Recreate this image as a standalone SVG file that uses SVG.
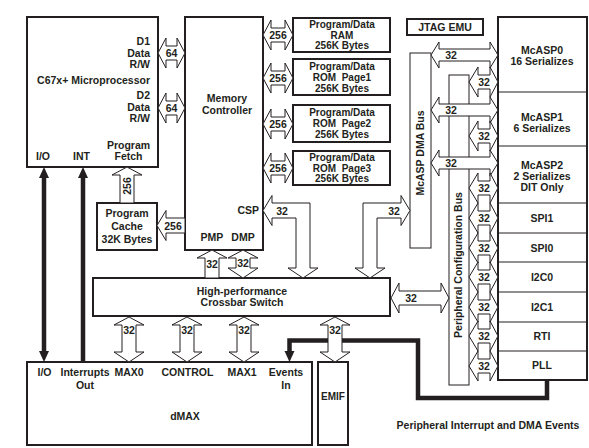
<svg xmlns="http://www.w3.org/2000/svg" width="589" height="448" viewBox="0 0 589 448">
<style>
.box{fill:#fff;stroke:#231f20;stroke-width:2}
.bus{fill:#fff;stroke:#231f20;stroke-width:1}
.div{stroke:#231f20;stroke-width:1}
.arr{fill:#fff;stroke:#231f20;stroke-width:1;stroke-linejoin:miter}
.thick{fill:none;stroke:#231f20;stroke-width:4.5;stroke-linejoin:miter}
.head{fill:#231f20;stroke:none}
text{font-family:"Liberation Sans",Arial,Helvetica,sans-serif;font-weight:bold;font-size:10.5px;fill:#231f20}
.c{text-anchor:middle}
.e{text-anchor:end}
.n{font-size:10.5px;text-anchor:middle}
.m{font-size:10px;text-anchor:middle}
</style>
<rect width="589" height="448" fill="#fff"/>

<g id="cpu">
<rect class="box" x="27" y="17" width="131" height="150"/>
<text class="e" x="150" y="45">D1</text>
<text class="e" x="150" y="57">Data</text>
<text class="e" x="150" y="68">R/W</text>
<text class="e" x="150" y="84">C67x+ Microprocessor</text>
<text class="e" x="150" y="99">D2</text>
<text class="e" x="150" y="111">Data</text>
<text class="e" x="150" y="122">R/W</text>
<text class="c" x="128.5" y="149">Program</text>
<text class="c" x="128.5" y="160">Fetch</text>
<text class="c" x="43" y="160">I/O</text>
<text class="c" x="81.5" y="160">INT</text>
</g>

<g id="memctrl">
<rect class="box" x="185" y="17" width="78" height="233"/>
<text class="c" x="227" y="102">Memory</text>
<text class="c" x="227" y="114">Controller</text>
<text class="e" x="259" y="214">CSP</text>
<text class="c" x="212" y="241">PMP</text>
<text class="c" x="243" y="241">DMP</text>
</g>

<g id="ram">
<rect class="box" x="293" y="18" width="97" height="34"/>
<text class="m" x="342" y="28">Program/Data</text>
<text class="m" x="342" y="38.5">RAM</text>
<text class="m" x="342" y="49">256K Bytes</text>
</g>
<g id="rom1">
<rect class="box" x="293" y="59" width="97" height="36"/>
<text class="m" x="342" y="70">Program/Data</text>
<text class="m" x="342" y="81" xml:space="preserve">ROM  Page1</text>
<text class="m" x="342" y="92">256K Bytes</text>
</g>
<g id="rom2">
<rect class="box" x="293" y="105" width="97" height="37"/>
<text class="m" x="342" y="116">Program/Data</text>
<text class="m" x="342" y="127" xml:space="preserve">ROM  Page2</text>
<text class="m" x="342" y="138">256K Bytes</text>
</g>
<g id="rom3">
<rect class="box" x="293" y="151" width="97" height="34"/>
<text class="m" x="342" y="161">Program/Data</text>
<text class="m" x="342" y="171.5" xml:space="preserve">ROM  Page3</text>
<text class="m" x="342" y="182">256K Bytes</text>
</g>

<g id="jtag">
<rect class="box" x="407" y="19" width="76" height="16"/>
<text class="c" x="445" y="30.5">JTAG EMU</text>
</g>

<g id="cache">
<rect class="box" x="97" y="203" width="60" height="47"/>
<text class="c" x="127" y="217">Program</text>
<text class="c" x="127" y="230">Cache</text>
<text class="c" x="127" y="243">32K Bytes</text>
</g>

<g id="crossbar">
<rect class="box" x="93" y="278" width="297" height="38"/>
<text class="c" x="242" y="294.5">High-performance</text>
<text class="c" x="242" y="305.5">Crossbar Switch</text>
</g>

<g id="dmax">
<rect class="box" x="27" y="362" width="285" height="83"/>
<text class="c" x="44.5" y="376">I/O</text>
<text class="c" x="85" y="376">Interrupts</text>
<text class="c" x="85" y="389">Out</text>
<text class="c" x="129" y="376">MAX0</text>
<text class="c" x="187.5" y="376">CONTROL</text>
<text class="c" x="242" y="376">MAX1</text>
<text class="c" x="286" y="376">Events</text>
<text class="c" x="286" y="389">In</text>
<text class="c" x="185" y="420">dMAX</text>
</g>

<g id="emif">
<rect class="box" x="318" y="362" width="30" height="83"/>
<text class="c" x="333" y="400" style="font-size:10px">EMIF</text>
</g>

<g id="dmabus">
<rect class="bus" x="410" y="53" width="21" height="195"/>
<text class="c" transform="translate(423.5,153) rotate(-90)">McASP DMA Bus</text>
</g>

<g id="cfgbus">
<rect class="bus" x="449" y="75" width="20" height="310"/>
<text class="c" transform="translate(462,265) rotate(-90)">Peripheral Configuration Bus</text>
</g>

<g id="peripherals">
<rect class="box" x="498" y="17" width="89" height="363"/>
<line class="div" x1="498" y1="92" x2="587" y2="92"/>
<line class="div" x1="498" y1="146" x2="587" y2="146"/>
<line class="div" x1="498" y1="203" x2="587" y2="203"/>
<line class="div" x1="498" y1="233" x2="587" y2="233"/>
<line class="div" x1="498" y1="262" x2="587" y2="262"/>
<line class="div" x1="498" y1="292" x2="587" y2="292"/>
<line class="div" x1="498" y1="322" x2="587" y2="322"/>
<line class="div" x1="498" y1="351" x2="587" y2="351"/>
<g id="mcasp0"><text class="c" x="542" y="54">McASP0</text><text class="c" x="542" y="65">16 Serializes</text></g>
<g id="mcasp1"><text class="c" x="542" y="121">McASP1</text><text class="c" x="542" y="132">6 Serializes</text></g>
<g id="mcasp2"><text class="c" x="542" y="169">McASP2</text><text class="c" x="542" y="180">2 Serializes</text><text class="c" x="542" y="191">DIT Only</text></g>
<g id="spi1"><text class="c" x="542" y="222">SPI1</text></g>
<g id="spi0"><text class="c" x="542" y="252">SPI0</text></g>
<g id="i2c0"><text class="c" x="542" y="281">I2C0</text></g>
<g id="i2c1"><text class="c" x="542" y="311">I2C1</text></g>
<g id="rti"><text class="c" x="542" y="340">RTI</text></g>
<g id="pll"><text class="c" x="542" y="369">PLL</text></g>
</g>

<g id="note">
<text class="c" x="488" y="429">Peripheral Interrupt and DMA Events</text>
</g>

<g id="connectors">
<!-- thick event / interrupt lines -->
<polyline class="thick" points="547,379 547,398 418,398 418,340.5 289.5,340.5 289.5,353"/>
<polygon class="head" points="289.5,362 284.5,351 294.5,351"/>
<line class="thick" x1="44" y1="176" x2="44" y2="353"/>
<polygon class="head" points="44,167 39,178 49,178"/>
<polygon class="head" points="44,362 39,351 49,351"/>
<line class="thick" x1="83" y1="176" x2="83" y2="362"/>
<polygon class="head" points="83,167 78,178 88,178"/>

<!-- 64-bit data buses -->
<path class="arr" d="M158,53 L166,38 L166,46 L177,46 L177,38 L185,53 L177,68 L177,60 L166,60 L166,68 Z"/>
<text class="n" x="171.5" y="57">64</text>
<path class="arr" d="M158,108 L166,93 L166,101 L177,101 L177,93 L185,108 L177,123 L177,115 L166,115 L166,123 Z"/>
<text class="n" x="171.5" y="112">64</text>

<!-- 256-bit memory buses -->
<path class="arr" d="M263,35 L271,20 L271,28 L285,28 L285,20 L293,35 L285,50 L285,42 L271,42 L271,50 Z"/>
<text class="n" x="278" y="39">256</text>
<path class="arr" d="M263,78 L271,63 L271,71 L285,71 L285,63 L293,78 L285,93 L285,85 L271,85 L271,93 Z"/>
<text class="n" x="278" y="82">256</text>
<path class="arr" d="M263,124 L271,109 L271,117 L285,117 L285,109 L293,124 L285,139 L285,131 L271,131 L271,139 Z"/>
<text class="n" x="278" y="128">256</text>
<path class="arr" d="M263,168 L271,153 L271,161 L285,161 L285,153 L293,168 L285,183 L285,175 L271,175 L271,183 Z"/>
<text class="n" x="278" y="172">256</text>

<!-- program cache -->
<path class="arr" d="M157,225.5 L166,210.5 L166,218 L185,218 L185,233 L166,233 L166,240.5 Z"/>
<text class="n" x="173" y="229.5">256</text>
<path class="arr" d="M127,167 L142,175 L134,175 L134,203 L120,203 L120,175 L112,175 Z"/>
<text class="n" transform="translate(131,186) rotate(-90)">256</text>

<!-- PMP / DMP -->
<path class="arr" d="M212,250 L227,258 L219,258 L219,278 L205,278 L205,258 L197,258 Z"/>
<text class="n" x="212" y="268">32</text>
<path class="arr" d="M243,250 L258,258 L250,258 L250,268 L258,268 L243,278 L228,268 L236,268 L236,258 L228,258 Z"/>
<text class="n" x="243" y="267">32</text>

<!-- CSP L-arrow -->
<path class="arr" d="M263,210.5 L272,195.5 L272,203 L310,203 L310,268 L318,268 L303,278 L288,268 L296,268 L296,218 L272,218 L272,225.5 Z"/>
<text class="n" x="282" y="215">32</text>

<!-- crossbar to McASP DMA bus -->
<path class="arr" d="M363,268 L363,203 L401,203 L401,195.5 L410,210.5 L401,225.5 L401,218 L377,218 L377,268 L385,268 L370,278 L355,268 Z"/>
<text class="n" x="394" y="215">32</text>

<!-- crossbar to peripheral configuration bus -->
<path class="arr" d="M391,298 L399,283 L399,291 L441,291 L441,283 L449,298 L441,313 L441,305 L399,305 L399,313 Z"/>
<text class="n" x="411" y="302">32</text>

<!-- McASP DMA bus to McASPs -->
<path class="arr" d="M431,55 L439,42 L439,49 L490,49 L490,42 L498,55 L490,68 L490,61 L439,61 L439,68 Z"/>
<text class="n" x="451" y="59">32</text>
<path class="arr" d="M431,110 L439,97 L439,104 L490,104 L490,97 L498,110 L490,123 L490,116 L439,116 L439,123 Z"/>
<text class="n" x="451" y="114">32</text>
<path class="arr" d="M431,163 L439,150 L439,157 L490,157 L490,150 L498,163 L490,176 L490,169 L439,169 L439,176 Z"/>
<text class="n" x="451" y="167">32</text>

<!-- configuration bus to peripherals -->
<path class="arr" d="M469,82 L478,67 L478,75 L490,75 L490,67 L498,82 L490,97 L490,89 L478,89 L478,97 Z"/>
<text class="n" x="484" y="86">32</text>
<path class="arr" d="M469,136 L478,121 L478,129 L490,129 L490,121 L498,136 L490,151 L490,143 L478,143 L478,151 Z"/>
<text class="n" x="484" y="140">32</text>
<path class="arr" d="M469,188 L478,173 L478,181 L490,181 L490,173 L498,188 L490,203 L490,195 L478,195 L478,203 Z"/>
<text class="n" x="484" y="192">32</text>
<path class="arr" d="M469,218 L478,203 L478,211 L490,211 L490,203 L498,218 L490,233 L490,225 L478,225 L478,233 Z"/>
<text class="n" x="484" y="222">32</text>
<path class="arr" d="M469,248 L478,233 L478,241 L490,241 L490,233 L498,248 L490,263 L490,255 L478,255 L478,263 Z"/>
<text class="n" x="484" y="252">32</text>
<path class="arr" d="M469,277 L478,262 L478,270 L490,270 L490,262 L498,277 L490,292 L490,284 L478,284 L478,292 Z"/>
<text class="n" x="484" y="281">32</text>
<path class="arr" d="M469,307 L478,292 L478,300 L490,300 L490,292 L498,307 L490,322 L490,314 L478,314 L478,322 Z"/>
<text class="n" x="484" y="311">32</text>
<path class="arr" d="M469,336 L478,321 L478,329 L490,329 L490,321 L498,336 L490,351 L490,343 L478,343 L478,351 Z"/>
<text class="n" x="484" y="340">32</text>
<path class="arr" d="M469,366 L478,351 L478,359 L490,359 L490,351 L498,366 L490,381 L490,373 L478,373 L478,381 Z"/>
<text class="n" x="484" y="370">32</text>

<!-- crossbar to dMAX and EMIF -->
<path class="arr" d="M129,317 L144,325 L136,325 L136,352 L144,352 L129,362 L114,352 L122,352 L122,325 L114,325 Z"/>
<text class="n" x="129" y="334">32</text>
<path class="arr" d="M187,317 L202,325 L194,325 L194,352 L202,352 L187,362 L172,352 L180,352 L180,325 L172,325 Z"/>
<text class="n" x="187" y="334">32</text>
<path class="arr" d="M244,317 L259,325 L251,325 L251,352 L259,352 L244,362 L229,352 L237,352 L237,325 L229,325 Z"/>
<text class="n" x="244" y="334">32</text>
<path class="arr" d="M335,317 L350,325 L342,325 L342,352 L350,352 L335,362 L320,352 L328,352 L328,325 L320,325 Z"/>
<text class="n" x="335" y="334">32</text>
</g>
</svg>
